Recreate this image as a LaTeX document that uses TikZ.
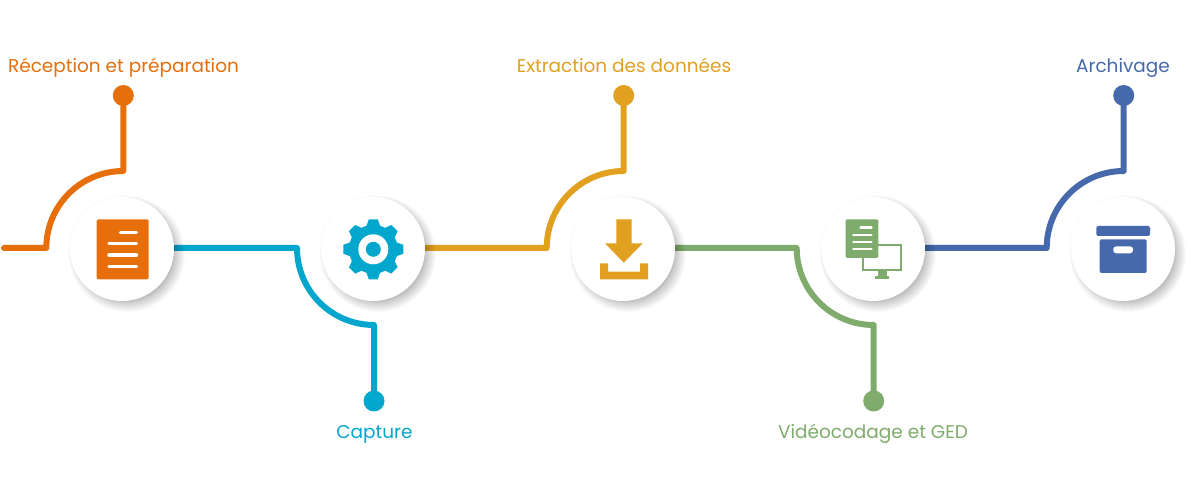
\documentclass[tikz,border=0pt]{standalone}
\usepackage{fontspec}
\setmainfont{Poppins}
\usetikzlibrary{backgrounds}
\definecolor{corange}{HTML}{E66F0C}
\definecolor{ccyan}{HTML}{03A6CC}
\definecolor{cgold}{HTML}{E1A020}
\definecolor{cgreen}{HTML}{7FAB6C}
\definecolor{cblue}{HTML}{4569AB}
\tikzset{
  x=0.75pt,y=0.75pt,
  hub/.style={circle,fill=white,minimum size=78pt,inner sep=0pt},
  dotnode/.style={circle,minimum size=15.75pt,inner sep=0pt},
  wire/.style={line width=4.5pt,line cap=round,line join=round},
  lab/.style={anchor=base,font=\fontsize{13.85pt}{16pt}\selectfont},
  whitebar/.style={draw=white,line cap=round}
}
\newcommand{\softshadow}[2]{%
  \foreach \r in {58,57,...,43}{\fill[black,opacity=0.021] (#1+5,#2-5) circle[radius=\r];}%
  \foreach \r in {54,53}{\fill[black,opacity=0.008] (#1,#2) circle[radius=\r];}%
}
\begin{document}
\begin{tikzpicture}
\useasboundingbox (0,0) rectangle (1200,500);
\softshadow{122}{251}
\softshadow{373}{251}
\softshadow{623}{251}
\softshadow{873}{251}
\softshadow{1123}{251}
\node[hub] (c1) at (122,251) {};
\node[hub] (c2) at (373,251) {};
\node[hub] (c3) at (623,251) {};
\node[hub] (c4) at (873,251) {};
\node[hub] (c5) at (1123,251) {};
\node[dotnode,fill=corange] (d1) at (123.3,404.5) {};
\node[dotnode,fill=ccyan] (d2) at (374,99) {};
\node[dotnode,fill=cgold] (d3) at (623.7,404.5) {};
\node[dotnode,fill=cgreen] (d4) at (873.7,99) {};
\node[dotnode,fill=cblue] (d5) at (1123.7,404.5) {};
\node[lab,text=corange] (t1) at (123.5,427.3) {Réception et préparation};
\node[lab,text=ccyan] (t2) at (374.5,61.3) {Capture};
\node[lab,text=cgold] (t3) at (624,427.3) {Extraction des données};
\node[lab,text=cgreen] (t4) at (873,61.3) {Vidéocodage et GED};
\node[lab,text=cblue] (t5) at (1123,427.3) {Archivage};
\coordinate (s0) at (4,252);
\coordinate (j1) at (46.3,252);
\coordinate (j2) at (297,252);
\coordinate (j3) at (546.7,252);
\coordinate (j4) at (796.7,252);
\coordinate (j5) at (1046.7,252);
\begin{scope}[on background layer]
\fill[white] (0,0) rectangle (1200,500);
\draw[wire,corange] (s0) -- (j1) arc[start angle=180,end angle=90,radius=77] -- (d1.center);
\draw[wire,ccyan] (c1.east |- j2) -- (j2) arc[start angle=180,end angle=270,radius=77] -- (d2.center);
\draw[wire,cgold] (c2.east |- j3) -- (j3) arc[start angle=180,end angle=90,radius=77] -- (d3.center);
\draw[wire,cgreen] (c3.east |- j4) -- (j4) arc[start angle=180,end angle=270,radius=77] -- (d4.center);
\draw[wire,cblue] (c4.east |- j5) -- (j5) arc[start angle=180,end angle=90,radius=77] -- (d5.center);
\end{scope}
% icon 1: document
\fill[corange,rounded corners=1.5pt] (96.7,220.7) rectangle (148.7,280.7);
\begin{scope}[whitebar,line width=2.6pt]
\draw (120.5,267.7) -- (136.5,267.7);
\draw (109,256.3) -- (136.5,256.3);
\draw (109,245) -- (136.5,245);
\draw (109,233.7) -- (136.5,233.7);
\end{scope}
% icon 2: gear
\begin{scope}[shift={(373.3,250.7)}]
\fill[ccyan] (-16:24.5) -- (-8.5:30.3) -- (8.5:30.3) -- (16:24.5)
 -- (29:24.5) -- (36.5:30.3) -- (53.5:30.3) -- (61:24.5)
 -- (74:24.5) -- (81.5:30.3) -- (98.5:30.3) -- (106:24.5)
 -- (119:24.5) -- (126.5:30.3) -- (143.5:30.3) -- (151:24.5)
 -- (164:24.5) -- (171.5:30.3) -- (188.5:30.3) -- (196:24.5)
 -- (209:24.5) -- (216.5:30.3) -- (233.5:30.3) -- (241:24.5)
 -- (254:24.5) -- (261.5:30.3) -- (278.5:30.3) -- (286:24.5)
 -- (299:24.5) -- (306.5:30.3) -- (323.5:30.3) -- (331:24.5) -- cycle;
\fill[white] (0,0) circle[radius=15];
\fill[ccyan] (0,0) circle[radius=7.5];
\end{scope}
% icon 3: download
\fill[cgold] (616.3,280.7) -- (631.7,280.7) -- (631.7,256.7) -- (642.7,256.7) -- (623.7,237.3) -- (605,256.7) -- (616.3,256.7) -- cycle;
\fill[cgold] (600,236.7) -- (600,220.7) -- (648,220.7) -- (648,236.7) -- (640,236.7) -- (640,228.3) -- (608,228.3) -- (608,236.7) -- cycle;
% icon 4: document + monitor
\draw[cgreen,line width=1.7pt] (862.8,254.9) rectangle (901.2,230.1);
\fill[cgreen] (877.7,229.5) rectangle (886.7,224);
\fill[cgreen] (875,224) rectangle (889.3,220.7);
\fill[cgreen,rounded corners=1pt] (845.7,242) rectangle (878.3,280.7);
\begin{scope}[whitebar,line width=1.8pt]
\draw (860.5,272.3) -- (871.5,272.3);
\draw (853.3,265) -- (871.5,265);
\draw (853.3,257.7) -- (871.5,257.7);
\draw (853.3,250.7) -- (871.5,250.7);
\end{scope}
% icon 5: archive box
\fill[cblue,rounded corners=1.5pt] (1096.3,264) -- (1096.3,274) -- (1150,274) -- (1150,264) -- cycle;
\fill[cblue,rounded corners=1.5pt] (1099.7,260.7) -- (1146.7,260.7) -- (1146.7,227) -- (1099.7,227) -- cycle;
\fill[white,rounded corners=2.2pt] (1113.3,253.7) rectangle (1133,246.7);
\end{tikzpicture}
\end{document}
